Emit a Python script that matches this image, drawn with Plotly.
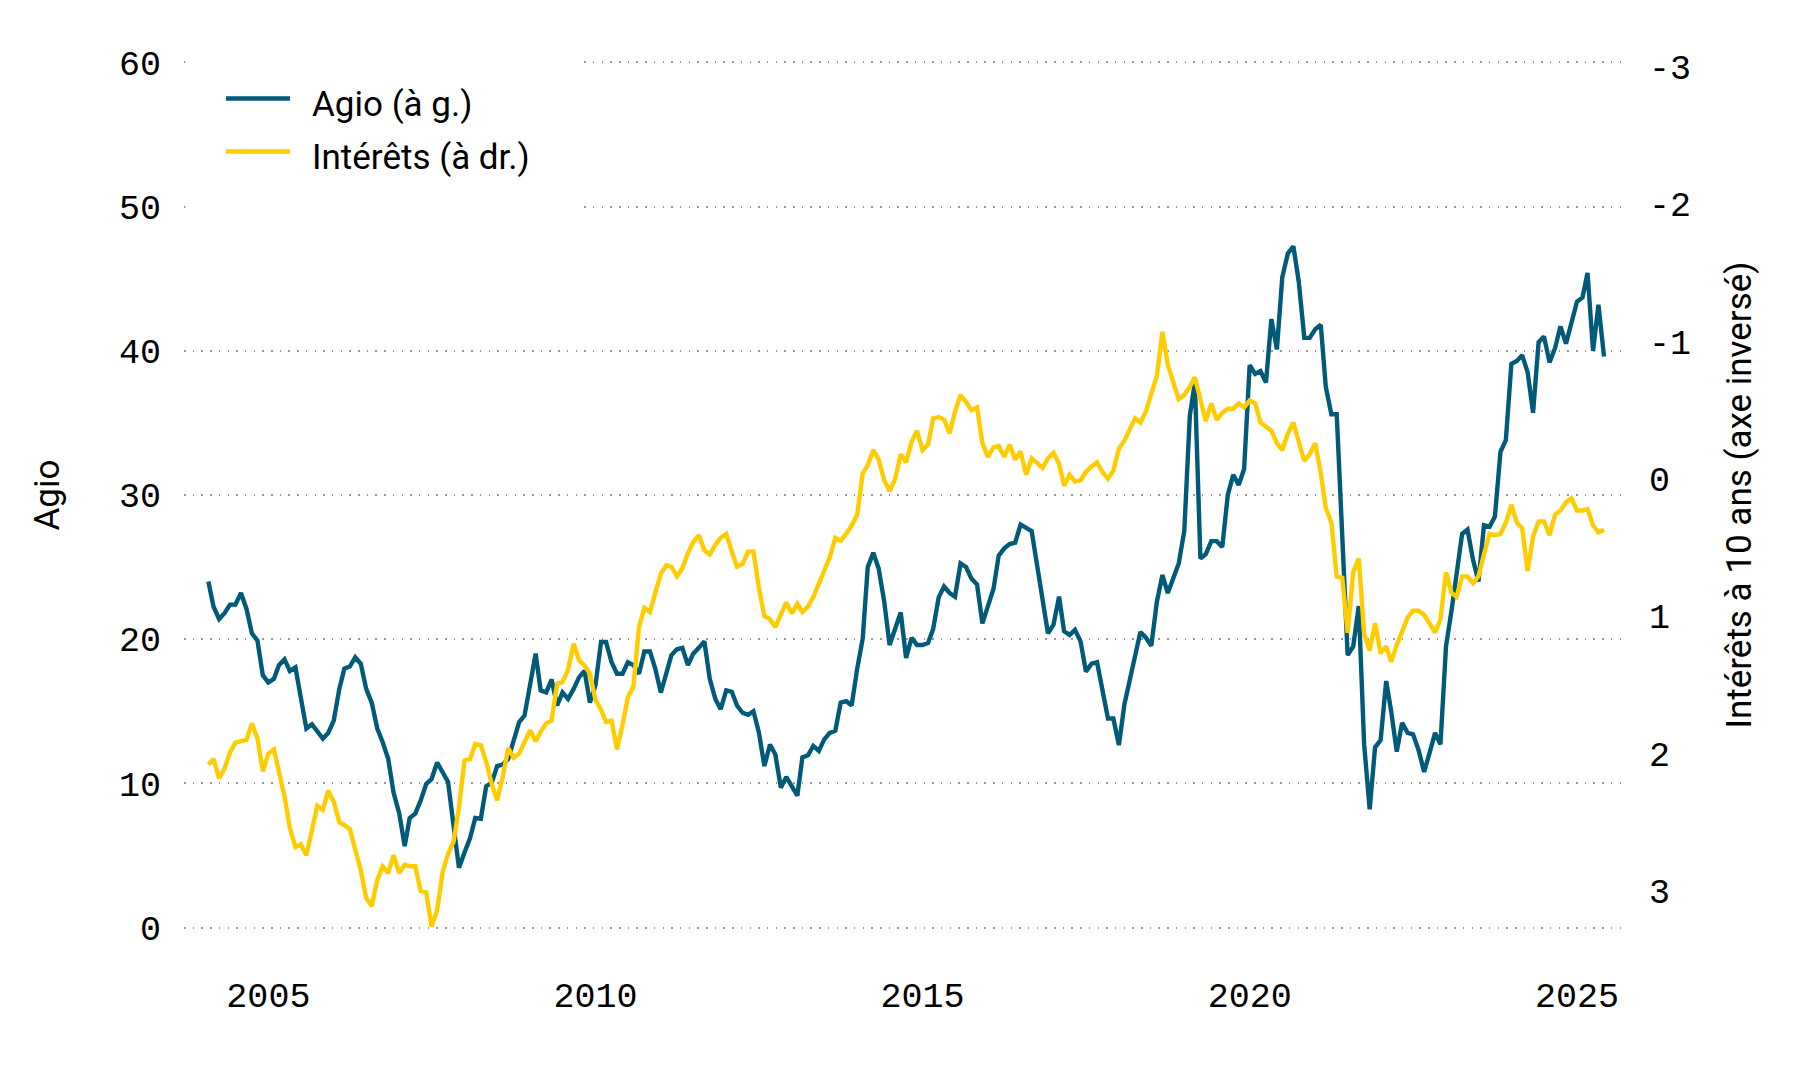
import pandas as pd
import plotly.graph_objects as go

# ---------------- data (monthly, Feb 2004 – Jun 2025) ----------------
start_month = "2004-02-01"

agio = [
    24.0, 22.25, 21.4, 21.8, 22.4, 22.4, 23.2, 22.1, 20.4, 19.9,
    17.5, 17.0, 17.25, 18.2, 18.6, 17.8, 18.05, 15.9, 13.8, 14.1,
    13.65, 13.1, 13.5, 14.35, 16.55, 17.95, 18.1, 18.75, 18.3, 16.55,
    15.6, 13.8, 12.85, 11.7, 9.35, 7.95, 5.65, 7.6, 7.9, 8.8,
    9.95, 10.3, 11.45, 10.8, 10.1, 7.05, 4.15, 5.2, 6.2, 7.6,
    7.55, 9.8, 10.05, 11.2, 11.3, 11.7, 13.1, 14.25, 14.7, 17.0,
    19.0, 16.45, 16.3, 17.2, 15.4, 16.3, 15.85, 16.55, 17.35, 17.8,
    15.6, 16.8, 19.8, 19.8, 18.4, 17.6, 17.6, 18.4, 18.2, 17.6,
    19.15, 19.15, 17.95, 16.3, 17.8, 18.9, 19.3, 19.4, 18.2, 19.0,
    19.4, 19.85, 17.25, 15.85, 15.15, 16.45, 16.35, 15.4, 14.9, 14.75,
    15.0, 13.55, 11.2, 12.7, 12.0, 9.7, 10.45, 9.8, 9.15, 11.8,
    11.95, 12.6, 12.25, 13.05, 13.5, 13.65, 15.6, 15.7, 15.4, 17.95,
    20.05, 25.0, 26.0, 24.9, 22.6, 19.6, 20.7, 21.85, 18.7, 20.1,
    19.6, 19.6, 19.75, 20.7, 22.9, 23.65, 23.2, 22.95, 25.25, 25.0,
    24.2, 23.8, 21.1, 22.25, 23.5, 25.8, 26.3, 26.6, 26.7, 27.95,
    27.7, 27.5, 25.15, 22.6, 20.4, 21.0, 22.95, 20.55, 20.3, 20.65,
    19.85, 17.75, 18.3, 18.4, 16.6, 14.5, 14.5, 12.65, 15.5, 17.0,
    18.9, 20.5, 20.1, 19.55, 22.6, 24.45, 23.2, 24.2, 25.25, 27.5,
    35.5, 37.8, 25.6, 25.9, 26.8, 26.8, 26.4, 30.0, 31.4, 30.7,
    31.8, 39.0, 38.4, 38.6, 37.8, 42.2, 40.1, 45.1, 46.75, 47.25,
    44.8, 40.9, 40.9, 41.5, 41.8, 37.5, 35.6, 35.6, 26.5, 18.9,
    19.5, 22.3, 12.7, 8.2, 12.5, 13.0, 17.1, 15.0, 12.2, 14.2,
    13.5, 13.4, 12.3, 10.8, 12.1, 13.5, 12.7, 19.5, 22.0, 24.8,
    27.3, 27.6, 25.5, 24.0, 27.9, 27.8, 28.5, 33.0, 33.8, 39.1,
    39.3, 39.7, 38.5, 35.7, 40.6, 41.0, 39.2, 40.2, 41.7, 40.5,
    42.0, 43.4, 43.7, 45.4, 40.0, 43.2, 39.6,
]

interets = [
    2.08, 2.04, 2.18, 2.11, 1.99, 1.92, 1.91, 1.90, 1.78, 1.89,
    2.13, 2.00, 1.97, 2.14, 2.31, 2.54, 2.68, 2.66, 2.74, 2.56,
    2.38, 2.41, 2.27, 2.35, 2.50, 2.52, 2.55, 2.70, 2.85, 3.05,
    3.11, 2.92, 2.82, 2.87, 2.74, 2.87, 2.81, 2.82, 2.82, 3.00,
    3.01, 3.26, 3.14, 2.86, 2.73, 2.64, 2.39, 2.05, 2.04, 1.93,
    1.94, 2.06, 2.22, 2.34, 2.17, 1.96, 2.03, 2.00, 1.92, 1.83,
    1.91, 1.84, 1.78, 1.76, 1.49, 1.48, 1.39, 1.20, 1.32, 1.36,
    1.42, 1.61, 1.68, 1.77, 1.76, 1.97, 1.79, 1.59, 1.51, 1.08,
    0.94, 0.97, 0.83, 0.69, 0.63, 0.64, 0.71, 0.65, 0.54, 0.46,
    0.41, 0.52, 0.55, 0.48, 0.43, 0.40, 0.53, 0.64, 0.62, 0.53,
    0.53, 0.79, 1.00, 1.02, 1.08, 0.98, 0.90, 0.98, 0.91, 0.97,
    0.93, 0.86, 0.76, 0.68, 0.57, 0.43, 0.45, 0.40, 0.34, 0.26,
    -0.04, -0.10, -0.21, -0.14, 0.01, 0.09, 0.00, -0.18, -0.12, -0.27,
    -0.35, -0.21, -0.25, -0.44, -0.45, -0.43, -0.33, -0.49, -0.61, -0.56,
    -0.50, -0.52, -0.26, -0.16, -0.23, -0.24, -0.16, -0.25, -0.14, -0.20,
    -0.03, -0.15, -0.12, -0.08, -0.15, -0.19, -0.11, 0.05, -0.03, 0.02,
    0.01, -0.05, -0.09, -0.12, -0.05, 0.00, -0.06, -0.22, -0.28, -0.36,
    -0.44, -0.41, -0.49, -0.62, -0.75, -1.07, -0.83, -0.70, -0.58, -0.61,
    -0.67, -0.74, -0.59, -0.42, -0.55, -0.43, -0.48, -0.51, -0.51, -0.55,
    -0.52, -0.57, -0.55, -0.41, -0.38, -0.35, -0.26, -0.21, -0.33, -0.41,
    -0.27, -0.13, -0.18, -0.26, -0.04, 0.21, 0.32, 0.71, 0.72, 1.12,
    0.68, 0.58, 1.13, 1.25, 1.05, 1.27, 1.22, 1.33, 1.21, 1.10,
    1.01, 0.96, 0.96, 0.99, 1.05, 1.12, 1.02, 0.68, 0.83, 0.86,
    0.71, 0.71, 0.76, 0.71, 0.55, 0.40, 0.41, 0.40, 0.32, 0.19,
    0.32, 0.36, 0.67, 0.42, 0.31, 0.31, 0.41, 0.26, 0.23, 0.17,
    0.14, 0.23, 0.23, 0.22, 0.34, 0.39, 0.37,
]

dates = pd.date_range(start_month, periods=len(agio), freq="MS")

left_ticks = [0, 10, 20, 30, 40, 50, 60]
right_ticks = [-3, -2, -1, 0, 1, 2, 3]
right_tick_labels = ["-3", "-2", "-1", "0", "1", "2", "3"]
year_ticks = ["2005-01-01", "2010-01-01", "2015-01-01", "2020-01-01", "2025-01-01"]
year_labels = ["2005", "2010", "2015", "2020", "2025"]

legend_labels = ["Agio (à g.)", "Intérêts (à dr.)"]

# ---------------- style ----------------
BLUE = "#005a78"
YELLOW = "#ffcc00"
W, H = 1800, 1080
ML, MR, MT, MB = 184, 172, 60.5, 151
PW, PH = W - ML - MR, H - MT - MB
TICK_FONT = dict(family="Liberation Mono, DejaVu Sans Mono, monospace", size=35, color="#000")
TEXT_FONT = dict(family="Roboto, Inter, Arial, sans-serif", size=35, color="#000")


def px_x(px):
    return (px - ML) / PW


def px_y(py):
    return (H - MB - py) / PH


fig = go.Figure()
fig.add_trace(go.Scatter(x=dates, y=agio, name=legend_labels[0], mode="lines",
                         line=dict(color=BLUE, width=4.4), yaxis="y", showlegend=False))
fig.add_trace(go.Scatter(x=dates, y=interets, name=legend_labels[1], mode="lines",
                         line=dict(color=YELLOW, width=4.4), yaxis="y2", showlegend=False))

# custom legend (white box hiding grid, long line keys)
shapes = [
    dict(type="rect", xref="paper", yref="paper", layer="above",
         x0=px_x(185.5), x1=px_x(580), y0=px_y(225), y1=px_y(45),
         fillcolor="white", line=dict(width=0)),
    dict(type="line", xref="paper", yref="paper", layer="above",
         x0=px_x(226), x1=px_x(290), y0=px_y(98), y1=px_y(98),
         line=dict(color=BLUE, width=4.5)),
    dict(type="line", xref="paper", yref="paper", layer="above",
         x0=px_x(226), x1=px_x(290), y0=px_y(151), y1=px_y(151),
         line=dict(color=YELLOW, width=4.5)),
]
annotations = [
    dict(text=legend_labels[0], xref="paper", yref="paper", x=px_x(310), y=px_y(104),
         xanchor="left", yanchor="middle", showarrow=False, font=TEXT_FONT),
    dict(text=legend_labels[1], xref="paper", yref="paper", x=px_x(310), y=px_y(157),
         xanchor="left", yanchor="middle", showarrow=False, font=TEXT_FONT),
]

fig.update_layout(
    width=W, height=H,
    margin=dict(l=ML, r=MR, t=MT, b=MB, pad=0),
    paper_bgcolor="white", plot_bgcolor="white",
    shapes=shapes, annotations=annotations,
    xaxis=dict(
        type="date", range=["2003-09-18", "2025-10-13"],
        tickvals=year_ticks, ticktext=year_labels,
        showgrid=False, zeroline=False, showline=False, ticks="",
        tickfont=TICK_FONT, ticklabelstandoff=42,
    ),
    yaxis=dict(
        range=[-0.1, 60.1], tickvals=left_ticks,
        showgrid=True, gridcolor="#9a9a9a", gridwidth=1.5, griddash="1.5px,7.2px",
        zeroline=False, showline=False, ticks="",
        tickfont=TICK_FONT, ticklabelstandoff=22,
        title=dict(text="Agio", font=TEXT_FONT, standoff=48),
    ),
    yaxis2=dict(
        overlaying="y", side="right",
        range=[3.277, -3.042], tickvals=right_ticks, ticktext=right_tick_labels,
        showgrid=False, zeroline=False, showline=False, ticks="",
        tickfont=TICK_FONT, ticklabelstandoff=20,
        title=dict(text="Intérêts à 10 ans (axe inversé)", font=TEXT_FONT, standoff=36),
    ),
)

fig.write_html("out.html")
